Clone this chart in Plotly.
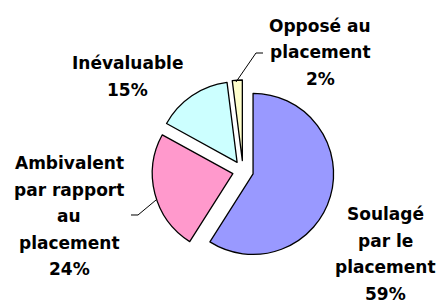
import plotly.graph_objects as go

categories = ["Soulagé par le placement", "Ambivalent par rapport au placement", "Inévaluable", "Opposé au placement"]
values = [59, 24, 15, 2]
colors = ["#9999FF", "#FF99CC", "#CCFFFF", "#FFFFCC"]

label_lines = [
    ["Soulagé", "par le", "placement", "59%"],
    ["Ambivalent", "par rapport", "au", "placement", "24%"],
    ["Inévaluable", "15%"],
    ["Opposé au", "placement", "2%"],
]
# label block anchor (x center px, first-line y center px), line step px
label_pos = [(385, 213), (69, 162), (127, 62), (320, 25)]
line_step = 26.5

W, H = 439, 302

fig = go.Figure()
fig.add_trace(go.Pie(
    labels=categories,
    values=values,
    sort=False,
    direction="clockwise",
    rotation=0,
    pull=[0.13, 0.13, 0.13, 0.13],
    marker=dict(colors=colors, line=dict(color="black", width=1.3)),
    textinfo="none",
    hoverinfo="label+percent",
    showlegend=False,
    domain=dict(x=[152 / W, 334 / W], y=[(H - 262) / H, (H - 80) / H]),
))

annotations = []
for lines, (cx, cy) in zip(label_lines, label_pos):
    for i, t in enumerate(lines):
        annotations.append(dict(
            x=cx / W, y=1 - (cy + 1 + i * line_step) / H,
            xref="paper", yref="paper", xanchor="center", yanchor="middle",
            text=t, showarrow=False,
            font=dict(family="DejaVu Sans", size=17, color="black", weight="bold"),
        ))

def px_line(pts):
    path = "M " + " L ".join(f"{x / W:.4f},{1 - y / H:.4f}" for x, y in pts)
    return dict(type="path", xref="paper", yref="paper", path=path,
                line=dict(color="black", width=1))

shapes = [
    px_line([(236, 82), (256, 53), (263, 53)]),
    px_line([(156, 200), (138, 215), (131, 215)]),
]

fig.update_layout(
    width=W, height=H,
    margin=dict(l=0, r=0, t=0, b=0),
    paper_bgcolor="white", plot_bgcolor="white",
    annotations=annotations,
    shapes=shapes,
)
fig.write_html("out.html", config={"displayModeBar": False},
               post_script="document.body.style.margin='0px';")
